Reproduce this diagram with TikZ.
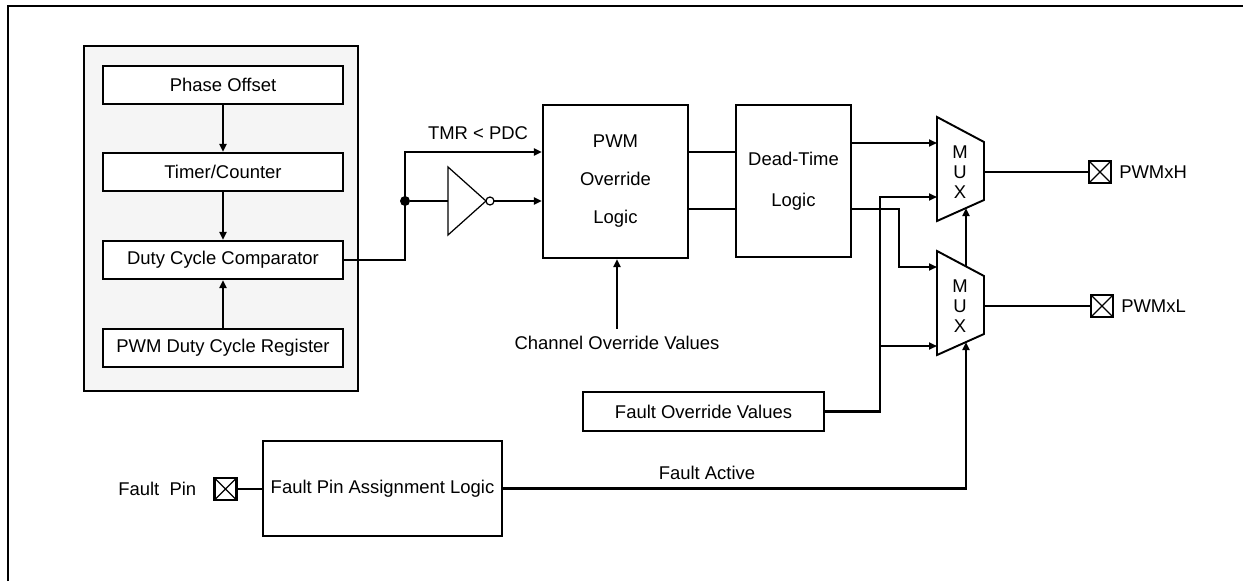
\documentclass[tikz,border=0pt]{standalone}
\usepackage{fontspec}
\setmainfont{Liberation Sans}
\usetikzlibrary{arrows.meta,calc,positioning}
\tikzset{%
    wire/.style={line width=1.3pt},
    sig/.style={wire, -{Triangle[length=1.6mm,width=1.4mm]}},
    blk/.style={draw, line width=1.3pt, fill=white, inner sep=0pt, align=center,
        minimum width=4.8cm, minimum height=0.76cm},
    pad/.style={draw, line width=1.3pt, minimum size=0.44cm, inner sep=0pt,
        path picture={%
            \draw[line width=0.7pt]
                (path picture bounding box.north west) -- (path picture bounding box.south east)
                (path picture bounding box.north east) -- (path picture bounding box.south west);}},
    lbl/.style={inner sep=1pt}
}

\begin{document}
\begin{tikzpicture}[x=0.02cm, y=-0.02cm, font=\fontsize{10.5}{12.6}\selectfont]
    \useasboundingbox (0,0) rectangle (1243,581);
    \draw[line width=1.4pt] (8,581) -- (8,6) -- (1243,6);

    % PWM generator
    \node[draw, line width=1.3pt, fill=black!4, minimum width=5.48cm, minimum height=6.9cm] (grp) at (221,218.5) {};
    \node[blk] (phase) at (223,85) {Phase Offset};
    \node[blk] (timer) at (223,172) {Timer/Counter};
    \node[blk] (duty) at (223,260) {Duty Cycle Comparator};
    \node[blk] (reg) at (223,348) {PWM Duty Cycle Register};
    \draw[sig] (phase) -- (timer);
    \draw[sig] (timer) -- (duty);
    \draw[sig] (reg) -- (duty);

    \node[blk, minimum width=2.9cm, minimum height=3.06cm] (ovr) at (615.5,181.5) {PWM\\[9pt]Override\\[9pt]Logic};
    \node[blk, minimum width=2.3cm, minimum height=3.04cm] (dead) at (793.5,181) {Dead-Time\\[10.5pt]Logic};
    \node[blk, minimum width=4.82cm, minimum height=0.78cm] (fov) at (703.5,411.5) {Fault Override Values};
    \node[blk, minimum width=4.78cm, minimum height=1.9cm] (fpa) at (382.5,488.5) {Fault Pin Assignment Logic};

    % comparator output and inverter
    \node[circle, fill, inner sep=0pt, minimum size=0.2cm] (jn) at (405,201) {};
    \coordinate (tap) at (405,152);
    \draw[sig] (duty.east) -| (tap) -- (tap -| ovr.west);
    \node[lbl] (tmr) at (478,133) {TMR < PDC};
    \draw[line width=0.7pt] (448,167) -- (448,235) -- (486,201) -- cycle;
    \draw[line width=0.7pt] (490,201) circle (0.08cm);
    \coordinate (invin) at (448,201);
    \coordinate (invout) at (494,201);
    \draw[wire] (jn) -- (invin);
    \draw[sig] (invout) -- (invout -| ovr.west);
    \foreach \y in {152,209}
        \draw[wire] (ovr.east |- 0,\y) -- (dead.west |- 0,\y);

    \node[lbl, inner ysep=4pt] (chv) at (617,343) {Channel Override Values};
    \draw[sig] (chv.north) -- (chv.north |- ovr.south);

    % multiplexers
    \foreach \n/\o in {1/0,2/134} {
        \coordinate (mux\n nw) at (937,117+\o);
        \coordinate (mux\n ne) at (984,142+\o);
        \coordinate (mux\n se) at (984,200+\o);
        \coordinate (mux\n sw) at (937,221+\o);
        \draw[line width=1.1pt, fill=white] (mux\n nw) -- (mux\n ne) -- (mux\n se) -- (mux\n sw) -- cycle;
        \node[inner sep=0pt, align=center, font=\fontsize{10.5}{11.3}\selectfont] (mux\n) at (960,172+\o) {M\\U\\X};
    }
    \coordinate (m1b) at ($(mux1sw)!0.617!(mux1se)$);
    \coordinate (m2t) at ($(mux2nw)!0.617!(mux2ne)$);
    \coordinate (m2b) at ($(mux2sw)!0.617!(mux2se)$);

    \draw[sig] (dead.east |- 0,143) -- (mux1nw |- 0,143);
    \draw[sig] (dead.east |- 0,209) -| (899,267) -- (mux2nw |- 0,267);
    \coordinate (fbr) at (880,346);
    \draw[sig] (fov.east) -| (880,197) -- (mux1nw |- 0,197);
    \draw[sig] (fbr) -- (mux2nw |- fbr);
    \draw[sig] (m2t) -- (m1b);
    \draw[sig] (fpa.east) -| (m2b);
    \node[lbl] (fact) at (707,473) {Fault Active};

    % pins
    \node[pad] (padh) at (1100,172) {};
    \node[pad] (padl) at (1102,306) {};
    \node[pad] (padf) at (225.5,489) {};
    \node[lbl, right=0.1cm of padh] (pwmh) {PWMxH};
    \node[lbl, right=0.1cm of padl] (pwml) {PWMxL};
    \node[lbl, left=0.3cm of padf] (fpin) {Fault\ \ Pin};
    \draw[wire] (mux1ne |- padh.west) -- (padh.west);
    \draw[wire] (mux2ne |- padl.west) -- (padl.west);
    \draw[wire] (padf.east) -- (padf -| fpa.west);
\end{tikzpicture}
\end{document}
